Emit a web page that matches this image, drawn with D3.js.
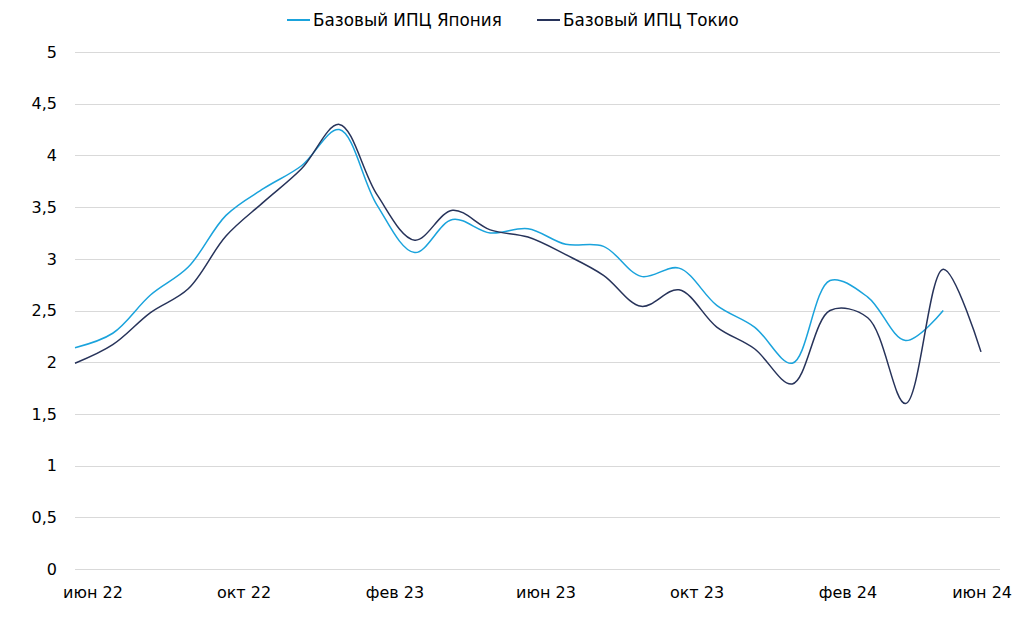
<!DOCTYPE html>
<html>
<head>
<meta charset="utf-8">
<script src="https://cdn.jsdelivr.net/npm/d3@7"></script>
<style>
  html, body { margin: 0; padding: 0; background: #fff; }
  text { font-family: "DejaVu Sans", Verdana, sans-serif; fill: #000; }
</style>
</head>
<body>
<div id="chart"></div>
<script>
// Données
const months = ["июн 22", "июл 22", "авг 22", "сен 22", "окт 22", "ноя 22", "дек 22",
    "янв 23", "фев 23", "мар 23", "апр 23", "май 23", "июн 23", "июл 23", "авг 23", "сен 23",
    "окт 23", "ноя 23", "дек 23", "янв 24", "фев 24", "мар 24", "апр 24", "май 24", "июн 24"]
const japan = [2.14, 2.28, 2.65, 2.92, 3.42, 3.68, 3.9, 4.25, 3.52, 3.06, 3.38, 3.25,
    3.29, 3.14, 3.12, 2.83, 2.91, 2.55, 2.34, 1.99, 2.79, 2.63, 2.21, 2.5]
const tokyo = [1.99, 2.17, 2.48, 2.71, 3.22, 3.55, 3.87, 4.3, 3.62, 3.18, 3.47, 3.28,
    3.21, 3.04, 2.84, 2.54, 2.7, 2.34, 2.13, 1.79, 2.5, 2.43, 1.6, 2.9, 2.1]
const yTicks = [0, 0.5, 1, 1.5, 2, 2.5, 3, 3.5, 4, 4.5, 5]
const xTickLabels = ["июн 22", "окт 22", "фев 23", "июн 23", "окт 23", "фев 24", "июн 24"]
const seriesNames = ["Базовый ИПЦ Япония", "Базовый ИПЦ Токио"]
const colors = ["#1aa3dc", "#27335a"]

// Constantes
const width = 1024, height = 624
const plot = {left: 75, right: 981, gridRight: 1000, top: 52, bottom: 569}

const svg = d3.select('#chart')
    .append('svg')
    .attr("width", width)
    .attr("height", height)

const x = d3.scalePoint()
    .domain(months)
    .range([plot.left, plot.right])

const y = d3.scaleLinear()
    .domain([0, 5])
    .range([plot.bottom, plot.top])

// Grille horizontale
svg.append("g")
    .selectAll("line")
    .data(yTicks)
    .join("line")
    .attr("x1", plot.left)
    .attr("x2", plot.gridRight)
    .attr("y1", d => Math.round(y(d)) + 0.5)
    .attr("y2", d => Math.round(y(d)) + 0.5)
    .attr("stroke", "#d9d9d9")
    .attr("stroke-width", 1)

// Axe Y
svg.append("g")
    .selectAll("text")
    .data(yTicks)
    .join("text")
    .attr("x", 57)
    .attr("y", d => y(d))
    .attr("dy", "0.36em")
    .attr("text-anchor", "end")
    .style("font-size", "16px")
    .text(d => String(d).replace(".", ","))

// Axe X (le dernier libellé est calé à droite comme dans Excel)
svg.append("g")
    .selectAll("text")
    .data(xTickLabels)
    .join("text")
    .attr("x", (d, i) => i === xTickLabels.length - 1 ? 1012 : x(d) + 18)
    .attr("y", 598)
    .attr("text-anchor", (d, i) => i === xTickLabels.length - 1 ? "end" : "middle")
    .style("font-size", "16px")
    .text(d => d)

// Lignes
const line = d3.line()
    .x(d => x(d[0]))
    .y(d => y(d[1]))
    .curve(d3.curveCatmullRom.alpha(0.5))

const series = [japan, tokyo]
series.forEach((values, i) => {
    svg.append("path")
        .datum(values.map((v, j) => [months[j], v]))
        .attr("fill", "none")
        .attr("stroke", colors[i])
        .attr("stroke-width", 1.5)
        .attr("d", line)
})

// Légende
const legendX = [287, 537]
const legend = svg.append("g")
    .selectAll("g")
    .data(seriesNames)
    .join("g")
    .attr("transform", (d, i) => "translate(" + legendX[i] + ",20)")

legend.append("line")
    .attr("x1", 0)
    .attr("x2", 23)
    .attr("stroke", (d, i) => colors[i])
    .attr("stroke-width", 2)

legend.append("text")
    .attr("x", 26)
    .attr("dy", "0.35em")
    .style("font-size", "16.8px")
    .text(d => d)
</script>
</body>
</html>
